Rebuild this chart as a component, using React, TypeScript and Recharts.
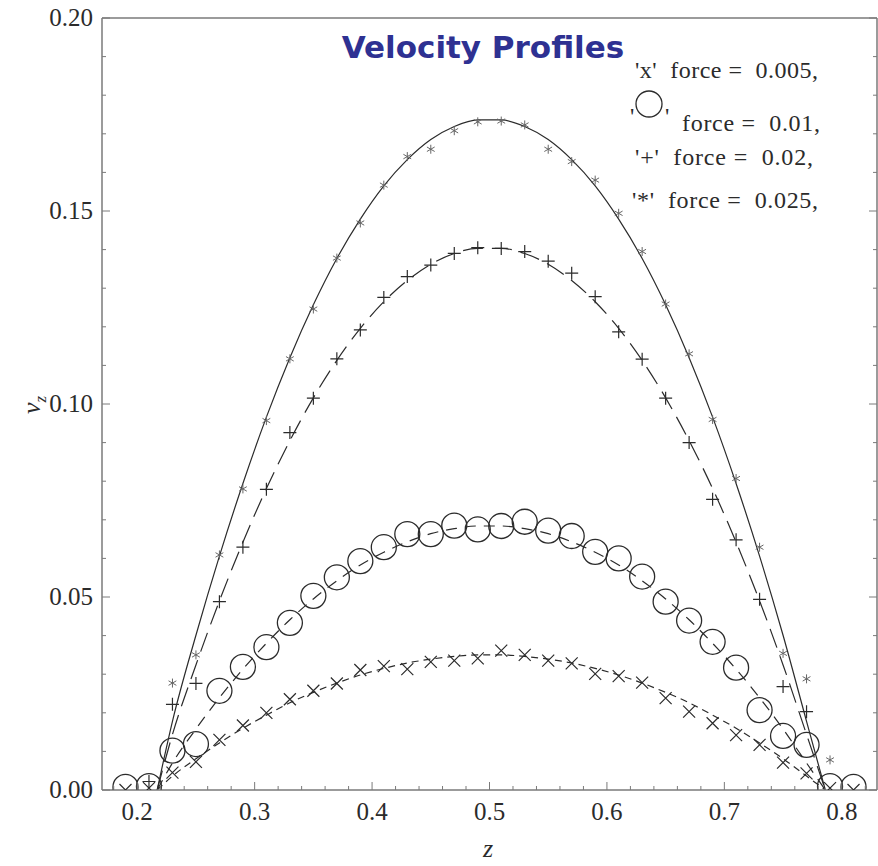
import React from 'react';
import { ComposedChart, Line, Scatter, XAxis, YAxis } from 'recharts';

// measured points, z = 0.19 ... 0.81 step 0.02
const zMarks = [
  0.19, 0.21, 0.23, 0.25, 0.27, 0.29, 0.31, 0.33, 0.35, 0.37, 0.39, 0.41, 0.43, 0.45, 0.47, 0.49,
  0.51, 0.53, 0.55, 0.57, 0.59, 0.61, 0.63, 0.65, 0.67, 0.69, 0.71, 0.73, 0.75, 0.77, 0.79, 0.81,
];
const xMarks = [
  0, 0.0005, 0.0045, 0.0073, 0.013, 0.0167, 0.02, 0.0235, 0.0257, 0.0276, 0.0311, 0.0321, 0.0313,
  0.0332, 0.0335, 0.0341, 0.0361, 0.035, 0.0335, 0.0328, 0.0301, 0.0295, 0.0278, 0.0238, 0.0203,
  0.0173, 0.0142, 0.0117, 0.0071, 0.0043, 0.0005, 0,
];
const circleMarks = [
  0.0008, 0.001, 0.0102, 0.0119, 0.0257, 0.0319, 0.037, 0.0433, 0.0503, 0.0551, 0.0593, 0.0629,
  0.0663, 0.0663, 0.0685, 0.0675, 0.0684, 0.0695, 0.0672, 0.0658, 0.0617, 0.06, 0.0553, 0.0488,
  0.0439, 0.0384, 0.0317, 0.0207, 0.014, 0.0117, 0.001, 0.0008,
];
const plusMarks = [
  null, 0.0022, 0.0222, 0.0276, 0.0488, 0.0629, 0.0779, 0.0926, 0.1015, 0.1117, 0.1192, 0.1276,
  0.133, 0.136, 0.139, 0.1405, 0.1403, 0.1395, 0.137, 0.1339, 0.1278, 0.1187, 0.1116, 0.1015,
  0.09, 0.0753, 0.0648, 0.0494, 0.0268, 0.0203, null, null,
];
const starMarks = [
  null, null, 0.0277, 0.035, 0.0609, 0.078, 0.0957, 0.1117, 0.1246, 0.1378, 0.1469, 0.1567,
  0.1641, 0.166, 0.1708, 0.1731, 0.1733, 0.1723, 0.166, 0.1628, 0.158, 0.1494, 0.1395, 0.1259,
  0.113, 0.096, 0.0807, 0.0629, 0.0354, 0.0288, 0.0078, null,
];

// fitted curves
const zFit = [
  0.217, 0.23, 0.25, 0.27, 0.29, 0.31, 0.33, 0.35, 0.37, 0.39, 0.41, 0.43, 0.45, 0.47, 0.49,
  0.51, 0.53, 0.55, 0.57, 0.59, 0.61, 0.63, 0.65, 0.67, 0.69, 0.71, 0.73, 0.75, 0.77, 0.786,
];
const starFit = [
  0, 0.0178, 0.0401, 0.0606, 0.0794, 0.0966, 0.112, 0.1257, 0.1377, 0.1479, 0.1565, 0.1633,
  0.1685, 0.1719, 0.1736, 0.1736, 0.1719, 0.1685, 0.1633, 0.1565, 0.1479, 0.1377, 0.1257, 0.112,
  0.0966, 0.0794, 0.0606, 0.0401, 0.0178, 0,
];
const plusFit = [
  0, 0.0144, 0.0324, 0.049, 0.0642, 0.0781, 0.0905, 0.1016, 0.1113, 0.1196, 0.1265, 0.132, 0.1362,
  0.139, 0.1403, 0.1403, 0.139, 0.1362, 0.132, 0.1265, 0.1196, 0.1113, 0.1016, 0.0905, 0.0781,
  0.0642, 0.049, 0.0324, 0.0144, 0,
];
const circleFit = [
  0, 0.007, 0.0158, 0.0239, 0.0313, 0.038, 0.0441, 0.0495, 0.0542, 0.0583, 0.0616, 0.0643, 0.0664,
  0.0677, 0.0684, 0.0684, 0.0677, 0.0664, 0.0643, 0.0616, 0.0583, 0.0542, 0.0495, 0.0441, 0.038,
  0.0313, 0.0239, 0.0158, 0.007, 0,
];
const xFit = [
  0, 0.0036, 0.0081, 0.0122, 0.016, 0.0194, 0.0226, 0.0253, 0.0277, 0.0298, 0.0315, 0.0329, 0.0339,
  0.0346, 0.035, 0.035, 0.0346, 0.0339, 0.0329, 0.0315, 0.0298, 0.0277, 0.0253, 0.0226, 0.0194,
  0.016, 0.0122, 0.0081, 0.0036, 0,
];

const xTicks = Array.from({ length: 33 }, (_, i) => Math.round((0.18 + 0.02 * i) * 100) / 100);
const yTicks = Array.from({ length: 21 }, (_, i) => i / 100);

const toPoints = (zs: number[], vs: (number | null)[]) =>
  zs.map((z, i) => ({ z, v: vs[i] })).filter((p) => p.v !== null);

const SERIF = '"Liberation Serif", "Times New Roman", serif';
const FRAME = '#7a7a7a';
const INK = '#2b2b2b';

const isMajorX = (v: number) => Math.abs(v * 10 - Math.round(v * 10)) < 1e-6;
const isMajorY = (v: number) => Math.abs(v * 20 - Math.round(v * 20)) < 1e-6;

const BottomTick = (props: any) => {
  const { x, y, payload } = props;
  const major = isMajorX(payload.value);
  return (
    <g>
      <line x1={x} x2={x} y1={y} y2={y - (major ? 8 : 4)} stroke={FRAME} strokeWidth={1} />
      {major && (
        <text x={x} y={y + 30} textAnchor="middle" fontFamily={SERIF} fontSize={25} fill={INK}>
          {payload.value.toFixed(1)}
        </text>
      )}
    </g>
  );
};

const TopTick = (props: any) => {
  const { x, y, payload } = props;
  const major = isMajorX(payload.value);
  return <line x1={x} x2={x} y1={y} y2={y + (major ? 8 : 4)} stroke={FRAME} strokeWidth={1} />;
};

const LeftTick = (props: any) => {
  const { x, y, payload } = props;
  const major = isMajorY(payload.value);
  return (
    <g>
      <line x1={x} x2={x + (major ? 8 : 4)} y1={y} y2={y} stroke={FRAME} strokeWidth={1} />
      {major && (
        <text x={x - 9} y={y + 8} textAnchor="end" fontFamily={SERIF} fontSize={25} fill={INK}>
          {payload.value.toFixed(2)}
        </text>
      )}
    </g>
  );
};

const RightTick = (props: any) => {
  const { x, y, payload } = props;
  const major = isMajorY(payload.value);
  return <line x1={x} x2={x - (major ? 8 : 4)} y1={y} y2={y} stroke={FRAME} strokeWidth={1} />;
};

const CrossShape = (p: any) => {
  const { cx, cy } = p;
  const s = 6;
  return (
    <path
      d={`M${cx - s},${cy - s}L${cx + s},${cy + s}M${cx - s},${cy + s}L${cx + s},${cy - s}`}
      stroke={INK}
      strokeWidth={1.2}
      fill="none"
    />
  );
};

const RingShape = (p: any) => (
  <circle cx={p.cx} cy={p.cy} r={12.5} stroke={INK} strokeWidth={1.3} fill="none" />
);

const PlusShape = (p: any) => {
  const { cx, cy } = p;
  const s = 6.5;
  return (
    <path
      d={`M${cx - s},${cy}L${cx + s},${cy}M${cx},${cy - s}L${cx},${cy + s}`}
      stroke={INK}
      strokeWidth={1.2}
      fill="none"
    />
  );
};

const StarShape = (p: any) => {
  const { cx, cy } = p;
  const s = 4.5;
  const a = s * Math.cos(Math.PI / 6);
  const b = s * Math.sin(Math.PI / 6);
  return (
    <path
      d={`M${cx},${cy - s}L${cx},${cy + s}M${cx - a},${cy - b}L${cx + a},${cy + b}M${cx - a},${cy + b}L${cx + a},${cy - b}`}
      stroke="#666"
      strokeWidth={1}
      fill="none"
    />
  );
};

const pre = { whiteSpace: 'pre' } as const;

export default function App() {
  return (
    <div style={{ position: 'absolute', left: 0, top: 0, width: 878, height: 866, background: '#fff' }}>
      <ComposedChart width={878} height={866} margin={{ top: 17, right: 0, bottom: 0, left: 0 }}>
        <XAxis
          dataKey="z"
          type="number"
          domain={[0.17, 0.83]}
          allowDataOverflow
          ticks={xTicks}
          interval={0}
          height={76}
          tickSize={0}
          tickMargin={0}
          tickLine={false}
          tick={BottomTick}
          axisLine={{ stroke: FRAME, strokeWidth: 1.5 }}
        />
        <XAxis
          xAxisId="top"
          orientation="top"
          type="number"
          domain={[0.17, 0.83]}
          allowDataOverflow
          ticks={xTicks}
          interval={0}
          height={1}
          tickSize={0}
          tickMargin={0}
          tickLine={false}
          tick={TopTick}
          axisLine={{ stroke: FRAME, strokeWidth: 1.5 }}
        />
        <YAxis
          dataKey="v"
          type="number"
          domain={[0, 0.2]}
          allowDataOverflow
          ticks={yTicks}
          interval={0}
          width={102}
          tickSize={0}
          tickMargin={0}
          tickLine={false}
          tick={LeftTick}
          axisLine={{ stroke: FRAME, strokeWidth: 1.5 }}
        />
        <YAxis
          yAxisId="right"
          orientation="right"
          type="number"
          domain={[0, 0.2]}
          allowDataOverflow
          ticks={yTicks}
          interval={0}
          width={1}
          tickSize={0}
          tickMargin={0}
          tickLine={false}
          tick={RightTick}
          axisLine={{ stroke: FRAME, strokeWidth: 1.5 }}
        />

        <Line data={toPoints(zFit, starFit)} dataKey="v" type="monotone" stroke={INK} strokeWidth={1.2} dot={false} activeDot={false} isAnimationActive={false} />
        <Line data={toPoints(zFit, plusFit)} dataKey="v" type="monotone" stroke={INK} strokeWidth={1.2} strokeDasharray="20 9" dot={false} activeDot={false} isAnimationActive={false} />
        <Line data={toPoints(zFit, circleFit)} dataKey="v" type="monotone" stroke={INK} strokeWidth={1.2} strokeDasharray="11 8" dot={false} activeDot={false} isAnimationActive={false} />
        <Line data={toPoints(zFit, xFit)} dataKey="v" type="monotone" stroke={INK} strokeWidth={1.2} strokeDasharray="7 5" dot={false} activeDot={false} isAnimationActive={false} />

        <Scatter data={toPoints(zMarks, xMarks)} dataKey="v" shape={CrossShape} isAnimationActive={false} />
        <Scatter data={toPoints(zMarks, circleMarks)} dataKey="v" shape={RingShape} isAnimationActive={false} />
        <Scatter data={toPoints(zMarks, plusMarks)} dataKey="v" shape={PlusShape} isAnimationActive={false} />
        <Scatter data={toPoints(zMarks, starMarks)} dataKey="v" shape={StarShape} isAnimationActive={false} />
      </ComposedChart>

      <svg
        width={878}
        height={866}
        style={{ position: 'absolute', left: 0, top: 0, pointerEvents: 'none' }}
      >
        <text x={483} y={58} textAnchor="middle" fontFamily='"DejaVu Sans", Verdana, sans-serif' fontWeight="bold" fontSize={31} fill="#2e3192">
          Velocity Profiles
        </text>
        <g fontFamily={SERIF} fontSize={24} fill={INK}>
          <text x={635} y={78} xmlSpace="preserve" style={pre} textLength={183} lengthAdjust="spacing">{"'x'  force =  0.005,"}</text>
          <text x={630} y={124}>'</text>
          <circle cx={649} cy={104} r={13} stroke={INK} strokeWidth={1.3} fill="none" />
          <text x={665} y={124}>'</text>
          <text x={682} y={131} xmlSpace="preserve" style={pre} textLength={138} lengthAdjust="spacing">{'force =  0.01,'}</text>
          <text x={635} y={165} xmlSpace="preserve" style={pre} textLength={178} lengthAdjust="spacing">{"'+'  force =  0.02,"}</text>
          <text x={632} y={208} xmlSpace="preserve" style={pre} textLength={186} lengthAdjust="spacing">{"'*'  force =  0.025,"}</text>
        </g>
        <text x={488} y={857} textAnchor="middle" fontFamily={SERIF} fontStyle="italic" fontSize={26} fill={INK}>
          z
        </text>
        <text transform="rotate(-90 40 405)" x={40} y={405} textAnchor="middle" fontFamily={SERIF} fontSize={26} fill={INK}>
          <tspan fontStyle="italic">v</tspan>
          <tspan fontStyle="italic" fontSize={17} dy={6}>z</tspan>
        </text>
      </svg>
    </div>
  );
}
